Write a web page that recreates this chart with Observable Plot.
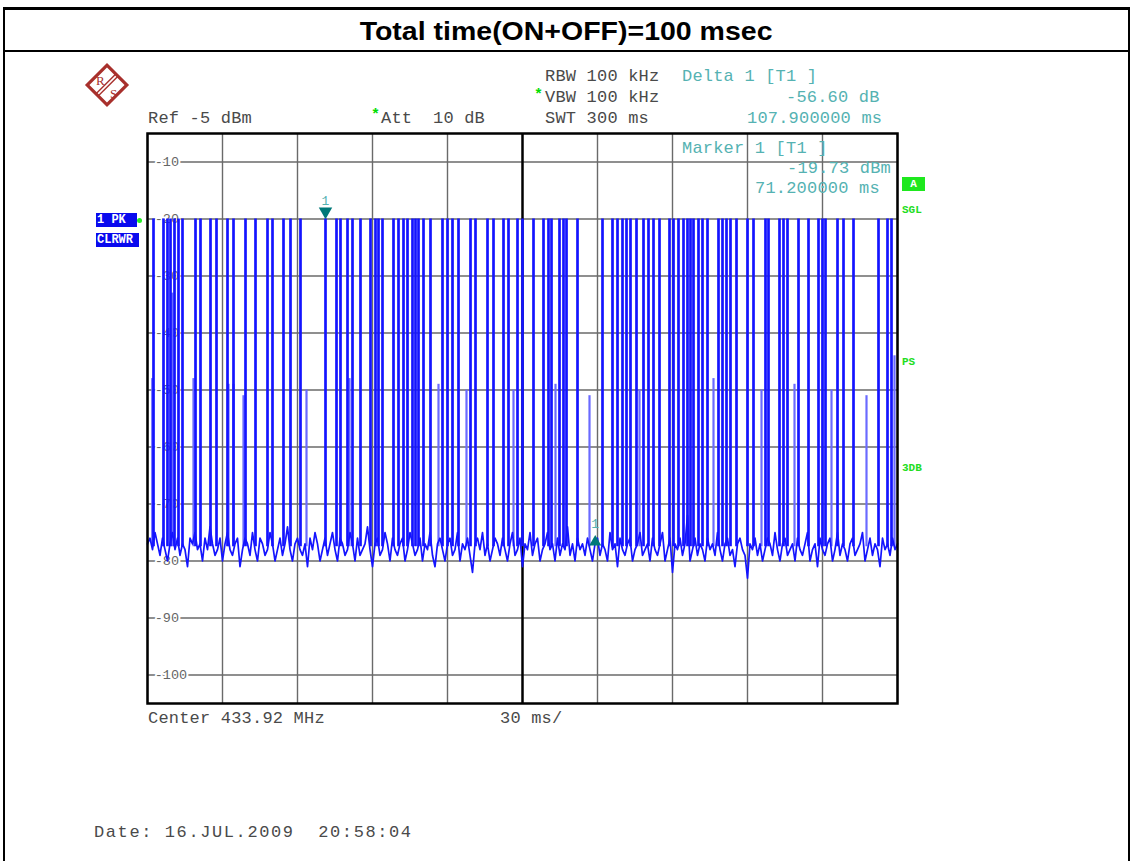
<!DOCTYPE html>
<html>
<head>
<meta charset="utf-8">
<script src="https://cdn.jsdelivr.net/npm/d3@7"></script>
<script src="https://cdn.jsdelivr.net/npm/@observablehq/plot@0.6"></script>
<style>
  html, body { margin: 0; padding: 0; background: #fff; width: 1132px; height: 861px; overflow: hidden; }
  #wrap { position: relative; width: 1132px; height: 861px; }
  #chart { position: absolute; left: 0; top: 0; }
  .t { position: absolute; font-family: "Liberation Mono", "DejaVu Sans Mono", monospace; font-size: 17px; line-height: 17px; color: #4a4a4a; white-space: pre; letter-spacing: 0.2px; }
  .teal { color: #55b2b2; }
  .star { position: absolute; font-family: "Liberation Mono", monospace; font-size: 15px; line-height: 15px; color: #00dd00; font-weight: bold; }
  .grn { position: absolute; font-family: "Liberation Mono", "DejaVu Sans Mono", monospace; font-weight: bold; font-size: 11px; line-height: 11px; color: #22dd22; white-space: pre; }
  .bx { position: absolute; font-family: "Liberation Mono", "DejaVu Sans Mono", monospace; font-weight: bold; font-size: 12px; line-height: 14px; color: #fff; background: #0a0aee; white-space: pre; padding: 0 1px; }
  #frameBox { position: absolute; left: 3px; top: 7px; width: 1123px; height: 900px; border-left: 2px solid #000; border-right: 2px solid #000; border-top: 3px solid #000; }
  #title { position: absolute; left: 0; top: 0; width: 1123px; height: 40px; border-bottom: 2px solid #000; text-align: center; font-family: "Liberation Sans", Arial, sans-serif; font-weight: bold; font-size: 25px; line-height: 42px; color: #000; }
  #title span { display: inline-block; transform: scaleX(1.14); }
</style>
</head>
<body>
<div id="wrap">
  <div id="chart"></div>
</div>
<script>
// ---- data ----
const sweepMs = [0, 300];            // time axis, 30 ms/div
const levelDbm = [-105, -5];         // Ref -5 dBm, 10 dB/div
const xGrid = [0, 30, 60, 90, 120, 180, 210, 240, 270, 300];
const xCenter = [150];
const yGrid = [-10, -20, -30, -40, -50, -60, -70, -80, -90, -100];
const yLabels = ["-10", "-20", "-30", "-40", "-50", "-60", "-70", "-80", "-90", "-100"];

// full-height pulse times (ms)
const pulseTimes = [
  2.4, 6.4, 8.0, 9.2, 10.8, 12.4, 14.0, 19.2, 21.2, 25.2, 27.6, 32.0, 34.4, 39.2, 43.2,
  48.0, 50.0, 54.4, 57.2, 61.2, 71.2, 75.6, 77.2, 80.0, 82.0, 85.2, 89.2, 91.2, 92.4, 94.0,
  98.4, 100.4, 102.4, 104.0, 106.0, 107.2, 108.4, 110.4, 113.2, 118.0, 120.0, 122.0, 124.4,
  129.2, 131.2, 136.0, 138.4, 142.4, 144.4, 148.0,
  150.0, 154.4, 158.4, 160.4, 161.6, 164.8, 166.4, 167.6, 172.0, 182.0, 186.0, 188.0, 190.0,
  191.6, 193.2, 195.6, 198.4, 200.4, 202.4, 204.8, 208.8, 210.4, 212.4, 214.4, 216.0, 217.2,
  218.4, 220.4, 222.0, 224.0, 228.4, 230.0, 231.6, 233.2, 235.6, 240.0, 242.4, 247.2, 248.4,
  252.8, 254.4, 256.0, 260.4, 264.4, 268.4, 270.0, 271.2, 276.0, 278.4, 282.4, 292.4, 296.0, 297.6
];
const pulseTop = -20;      // dBm
const pulseBase = -77.5;   // dBm

// lighter partial-height traces: time (ms), top level (dBm)
const partialTimes = [1.9, 9.9, 18.4, 32.4, 34.4, 38.4, 63.6, 80.8, 116.4, 127.6, 146.4, 163.2, 176.8, 196.8, 226.4, 245.6, 258.8, 273.6, 287.6, 298.8];
const partialTops  = [-48, -33, -48, -49, -49, -51, -50, -48, -49, -50, -50, -49, -51, -50, -48, -50, -49, -50, -51, -44];

// noise floor, one reading every 1 ms from 0 to 300 ms (dBm)
const noiseStepMs = 1;
const noiseDbm = [
  -77,-76,-78,-75,-77,-79,-76,-78,-80,-77,-75,-78,-76,-79,-77,-78,-81,-76,-77,-75,
  -78,-77,-80,-76,-78,-74,-77,-79,-78,-76,-80,-77,-75,-78,-79,-77,-76,-81,-78,-76,
  -77,-79,-75,-78,-80,-76,-77,-79,-78,-75,-77,-80,-78,-76,-79,-77,-74,-78,-80,-77,
  -76,-78,-79,-77,-81,-76,-78,-75,-77,-80,-78,-76,-79,-77,-75,-78,-80,-76,-77,-79,
  -78,-75,-77,-80,-76,-79,-78,-77,-74,-78,-81,-77,-76,-79,-78,-75,-77,-80,-76,-78,
  -79,-77,-76,-80,-78,-75,-77,-79,-78,-76,-80,-77,-78,-75,-79,-81,-77,-76,-78,-80,
  -77,-76,-79,-78,-75,-80,-77,-78,-76,-79,-82,-77,-76,-78,-75,-79,-77,-80,-78,-76,
  -77,-79,-76,-78,-80,-77,-75,-79,-78,-76,-81,-77,-78,-75,-79,-77,-76,-80,-78,-77,
  -75,-78,-77,-80,-76,-79,-77,-78,-74,-79,-77,-80,-76,-78,-77,-79,-76,-78,-80,-77,
  -76,-79,-77,-78,-80,-75,-78,-77,-81,-76,-78,-79,-77,-76,-80,-78,-77,-75,-79,-78,
  -77,-80,-76,-78,-79,-77,-75,-80,-78,-76,-82,-77,-78,-76,-79,-77,-72,-80,-78,-76,
  -79,-77,-78,-80,-76,-78,-77,-79,-75,-78,-80,-77,-76,-79,-78,-81,-77,-76,-78,-79,
  -83,-77,-78,-76,-79,-77,-80,-78,-76,-77,-79,-75,-78,-80,-77,-76,-79,-78,-77,-80,
  -76,-78,-79,-77,-75,-80,-78,-77,-81,-76,-78,-79,-77,-76,-80,-78,-75,-79,-77,-78,
  -80,-77,-76,-79,-78,-77,-75,-80,-78,-76,-79,-77,-78,-81,-76,-78,-77,-79,-76,-78,
  -77
];

// markers
const marker1 = { t: 71.2, level: -19.73 };
const delta1 = { t: 179.1, level: -76.33 };

// ---- build tables ----
const noiseTable = noiseDbm.map((v, i) => ({ t: i * noiseStepMs, v }));
const partialTable = partialTimes.map((t, i) => ({ t, top: partialTops[i] }));
const yLabelTable = yGrid.map((v, i) => ({ v, label: yLabels[i] }));

const blue = "#1414ff";
const mono = "Liberation Mono, DejaVu Sans Mono, monospace";

const chart = Plot.plot({
  width: 1132,
  height: 861,
  marginLeft: 147,
  marginRight: 235,
  marginTop: 133,
  marginBottom: 158,
  style: { background: "transparent", overflow: "visible" },
  x: { domain: sweepMs, axis: null },
  y: { domain: levelDbm, axis: null },
  marks: [
    Plot.ruleY(yGrid, { stroke: "#6a6a6a", strokeWidth: 1.4 }),
    Plot.ruleX(xGrid, { stroke: "#6a6a6a", strokeWidth: 1.4 }),
    Plot.text(yLabelTable, {
      x: 2.9, y: "v", text: "label", textAnchor: "start",
      fill: "#666", stroke: "white", strokeWidth: 4,
      fontFamily: mono, fontSize: 13.5
    }),
    Plot.ruleX(xCenter, { stroke: "#000", strokeWidth: 2.5 }),
    Plot.ruleX(partialTable, { x: "t", y1: pulseBase, y2: "top", stroke: "#6a6aff", strokeWidth: 2.2 }),
    Plot.line(noiseTable, { x: "t", y: "v", stroke: blue, strokeWidth: 1.7 }),
    Plot.ruleX(pulseTimes, { x: d => d, y1: pulseBase, y2: pulseTop, stroke: blue, strokeWidth: 2.7 }),
    Plot.frame({ stroke: "#000", strokeWidth: 2.5 }),
    Plot.dot([marker1], { x: "t", y: "level", symbol: "triangle", rotate: 180, r: 5, fill: "#007878", dy: -6 }),
    Plot.text([marker1], { x: "t", y: "level", text: () => "1", dy: -17, fill: "#55b2b2", fontFamily: mono, fontSize: 13 }),
    Plot.dot([delta1], { x: "t", y: "level", symbol: "triangle", r: 4.5, fill: "#007878", dy: 2 }),
    Plot.text([delta1], { x: "t", y: "level", text: () => "1", dy: -16, fill: "#55b2b2", fontFamily: mono, fontSize: 13 })
  ]
});
document.getElementById("chart").appendChild(chart);

// ---- annotations (HTML overlay) ----
const wrap = document.getElementById("wrap");
function add(html) { wrap.insertAdjacentHTML("beforeend", html); }

add(`<div id="frameBox"><div id="title"><span>Total time(ON+OFF)=100 msec</span></div></div>`);

// R&S logo
add(`<svg width="48" height="48" style="position:absolute;left:83px;top:61px">
  <g transform="translate(24,24) rotate(45)">
    <rect x="-14" y="-14" width="28" height="28" fill="none" stroke="#a8302c" stroke-width="3.2"/>
    <line x1="-1.5" y1="-14" x2="-1.5" y2="14" stroke="#a8302c" stroke-width="1.4"/>
    <line x1="1.5" y1="-14" x2="1.5" y2="14" stroke="#a8302c" stroke-width="1.4"/>
  </g>
  <text x="13" y="24" font-family="Liberation Serif, serif" font-size="13" fill="#a8302c">R</text>
  <text x="27" y="37" font-family="Liberation Serif, serif" font-size="13" fill="#a8302c">S</text>
</svg>`);

add(`<div class="t" style="left:148px;top:110px">Ref -5 dBm</div>`);
add(`<div class="star" style="left:371px;top:108px">*</div>`);
add(`<div class="t" style="left:381px;top:110px">Att  10 dB</div>`);
add(`<div class="t" style="left:545px;top:68px">RBW 100 kHz</div>`);
add(`<div class="star" style="left:534px;top:88px">*</div>`);
add(`<div class="t" style="left:545px;top:89px">VBW 100 kHz</div>`);
add(`<div class="t" style="left:545px;top:110px">SWT 300 ms</div>`);
add(`<div class="t teal" style="left:682px;top:68px">Delta 1 [T1 ]</div>`);
add(`<div class="t teal" style="left:786px;top:89px">-56.60 dB</div>`);
add(`<div class="t teal" style="left:747px;top:110px">107.900000 ms</div>`);
add(`<div class="t teal" style="left:682px;top:140px">Marker 1 [T1 ]</div>`);
add(`<div class="t teal" style="left:787px;top:160px">-19.73 dBm</div>`);
add(`<div class="t teal" style="left:755px;top:180px">71.200000 ms</div>`);

add(`<div style="position:absolute;left:902px;top:177px;width:23px;height:14px;background:#1ee81e;color:#fff;font-family:'Liberation Mono',monospace;font-weight:bold;font-size:11px;line-height:14px;text-align:center">A</div>`);
add(`<div class="grn" style="left:902px;top:205px">SGL</div>`);
add(`<div class="grn" style="left:902px;top:357px">PS</div>`);
add(`<div class="grn" style="left:902px;top:463px">3DB</div>`);

add(`<div class="bx" style="left:96px;top:213px;width:39px">1 PK</div>`);
add(`<div style="position:absolute;left:137px;top:218px;width:5px;height:5px;border-radius:50%;background:#22ee22"></div>`);
add(`<div class="bx" style="left:96px;top:233px;width:41px">CLRWR</div>`);

add(`<div class="t" style="left:148px;top:710px">Center 433.92 MHz</div>`);
add(`<div class="t" style="left:500px;top:710px">30 ms/</div>`);
add(`<div class="t" style="left:94px;top:824px;letter-spacing:1.6px">Date: 16.JUL.2009  20:58:04</div>`);
</script>
</body>
</html>
